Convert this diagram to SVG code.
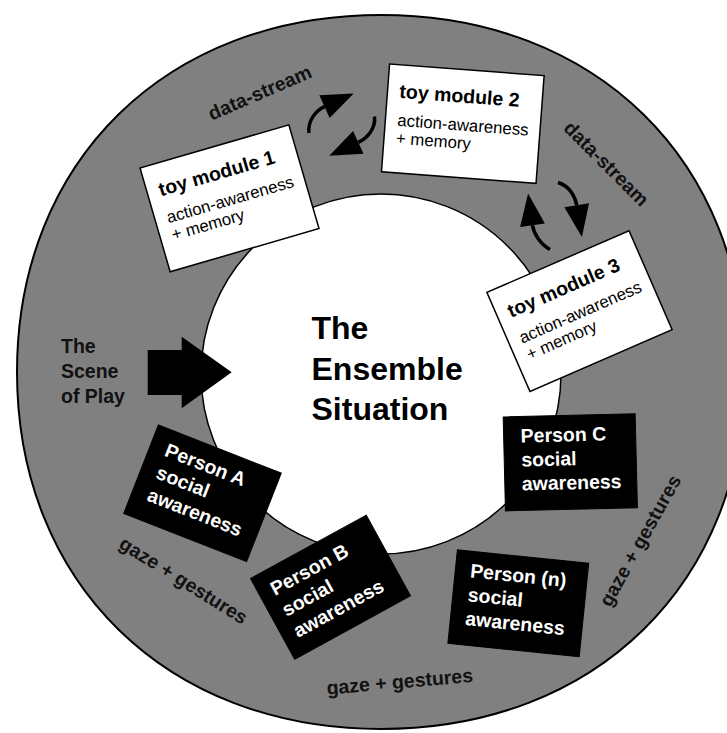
<svg xmlns="http://www.w3.org/2000/svg" width="727" height="733" viewBox="0 0 727 733">
<style>
  .ring { fill: #808080; stroke: #000; stroke-width: 2; }
  .hole { fill: #fff; stroke: #000; stroke-width: 1.5; }
  .box { fill: #fff; stroke: #000; stroke-width: 1.5; }
  .pbox { fill: #000; stroke: #000; stroke-width: 1; }
  .title { font-family: "Liberation Sans", Arial, sans-serif; font-weight: bold; font-size: 19.5px; fill: #000; }
  .sub { font-family: "Liberation Sans", Arial, sans-serif; font-size: 16.8px; fill: #000; }
  .ptext { font-family: "Liberation Sans", Arial, sans-serif; font-weight: bold; font-size: 19.5px; fill: #fff; }
  .label { font-family: "Liberation Sans", Arial, sans-serif; font-weight: bold; font-size: 19.5px; fill: #111; }
  .big { font-family: "Liberation Sans", Arial, sans-serif; font-weight: bold; font-size: 32px; fill: #000; }
  .shaft { fill: none; stroke: #000; stroke-width: 3.5; }
</style>
<defs>
  <marker id="head" markerUnits="userSpaceOnUse" markerWidth="32" markerHeight="25" refX="0" refY="12.5" orient="auto" overflow="visible">
    <path d="M0,0 L32,12.5 L0,25 Z" fill="#000"/>
  </marker>
</defs>

<g id="scene-ring">
  <path class="ring" d="M17,372 C17,161.4 166.2,15 381,15 C595.8,15 745,161.4 745,372 C745,582.6 595.8,729 381,729 C166.2,729 17,582.6 17,372 Z"/>
  <circle class="hole" cx="381" cy="374" r="180"/>
</g>

<g id="labels">
  <text class="label" x="61" y="353.3">The</text>
  <text class="label" x="61" y="378">Scene</text>
  <text class="label" x="61" y="402.7">of Play</text>
  <text class="label" text-anchor="middle" transform="translate(262.5,98.7) rotate(-23.4)">data-stream</text>
  <text class="label" text-anchor="middle" transform="translate(601.7,168.3) rotate(45)">data-stream</text>
  <text class="label" text-anchor="middle" transform="translate(180,586) rotate(32)">gaze + gestures</text>
  <text class="label" text-anchor="middle" transform="translate(400.3,688.3) rotate(-5)">gaze + gestures</text>
  <text class="label" text-anchor="middle" transform="translate(646,544) rotate(-60.8)">gaze + gestures</text>
</g>

<g id="ensemble-situation">
  <text class="big" x="311.5" y="339.3">The</text>
  <text class="big" x="311.5" y="380">Ensemble</text>
  <text class="big" x="311.5" y="420">Situation</text>
</g>

<g id="connectors">
  <polygon points="147.7,350 181.7,350 181.7,336.7 231.7,372.3 181.7,408.3 181.7,395 147.7,395" fill="#000"/>
  <path class="shaft" marker-end="url(#head)" d="M309,133 C307.5,121 315.4,110.8 324.5,106.7"/>
  <path class="shaft" marker-end="url(#head)" d="M374.5,116.5 C376,128 367.4,138.1 358.3,142.3"/>
  <path class="shaft" marker-end="url(#head)" d="M558,182.5 C570,186 575.4,197.4 576.7,205.3"/>
  <path class="shaft" marker-end="url(#head)" d="M550,249.5 C540,244 533.6,233.2 532.5,225.3"/>
</g>

<g id="toy-module-1" transform="translate(229.5,198.3) rotate(-16.2)">
  <rect class="box" x="-77.5" y="-54" width="155" height="108"/>
  <text class="title" x="-65.5" y="-21">toy module 1</text>
  <text class="sub" x="-65.5" y="7">action-awareness</text>
  <text class="sub" x="-65.5" y="25">+ memory</text>
</g>

<g id="toy-module-2" transform="translate(462.8,123.7) rotate(4.3)">
  <rect class="box" x="-77.5" y="-54" width="155" height="108"/>
  <text class="title" x="-65.5" y="-21">toy module 2</text>
  <text class="sub" x="-65.5" y="7">action-awareness</text>
  <text class="sub" x="-65.5" y="25">+ memory</text>
</g>

<g id="toy-module-3" transform="translate(579.5,311.1) rotate(-23.5)">
  <rect class="box" x="-77.5" y="-54" width="155" height="108"/>
  <text class="title" x="-65.5" y="-21">toy module 3</text>
  <text class="sub" x="-65.5" y="7">action-awareness</text>
  <text class="sub" x="-65.5" y="25">+ memory</text>
</g>

<g id="person-a" transform="translate(202.5,493.3) rotate(21.4)">
  <rect class="pbox" x="-66" y="-47.5" width="132" height="95"/>
  <text class="ptext" x="-50" y="-21">Person A</text>
  <text class="ptext" x="-50" y="3">social</text>
  <text class="ptext" x="-50" y="27">awareness</text>
</g>

<g id="person-b" transform="translate(330.5,587.2) rotate(-28.7)">
  <rect class="pbox" x="-66" y="-46" width="132" height="92"/>
  <text class="ptext" x="-53" y="-19">Person B</text>
  <text class="ptext" x="-53" y="5">social</text>
  <text class="ptext" x="-53" y="29">awareness</text>
</g>

<g id="person-c" transform="translate(570.3,462.3) rotate(-1.4)">
  <rect class="pbox" x="-66" y="-47" width="132" height="94"/>
  <text class="ptext" x="-49" y="-21">Person C</text>
  <text class="ptext" x="-49" y="3">social</text>
  <text class="ptext" x="-49" y="27">awareness</text>
</g>

<g id="person-n" transform="translate(518.3,603.3) rotate(5.8)">
  <rect class="pbox" x="-66" y="-47" width="132" height="94"/>
  <text class="ptext" x="-51" y="-21">Person (n)</text>
  <text class="ptext" x="-51" y="3">social</text>
  <text class="ptext" x="-51" y="27">awareness</text>
</g>
</svg>
